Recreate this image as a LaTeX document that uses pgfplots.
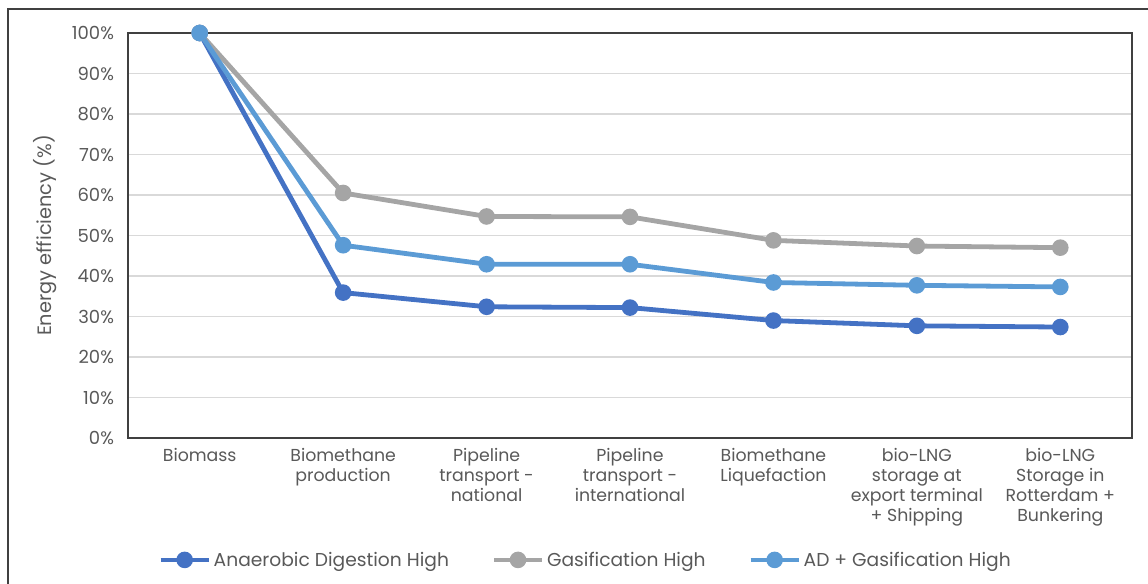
\documentclass[border=0pt]{standalone}
\usepackage{pgfplots}
\pgfplotsset{compat=1.18}
\usepackage{fontspec}
\setmainfont{Poppins}
\definecolor{adc}{HTML}{4472C4}
\definecolor{gasc}{HTML}{A5A5A5}
\definecolor{mixc}{HTML}{5B9BD5}
\definecolor{txt}{HTML}{595959}
\definecolor{frame}{HTML}{404040}
\definecolor{gridc}{HTML}{D9D9D9}
\begin{document}
\begin{tikzpicture}
\path[use as bounding box] (0pt,0pt) rectangle (861pt,437.25pt);
\draw[frame, line width=1.6pt] (6pt,-2pt) -- (6pt,430.5pt) -- (863pt,430.5pt);
\begin{axis}[
  at={(96pt,108.75pt)}, anchor=south west,
  scale only axis, width=753pt, height=303.75pt,
  xmin=-0.5, xmax=6.5, ymin=0, ymax=100,
  xtick={0,1,2,3,4,5,6},
  xticklabels={Biomass,{Biomethane\\production},{Pipeline\\transport -\\national},{Pipeline\\transport -\\international},{Biomethane\\Liquefaction},{bio-LNG\\storage at\\export terminal\\+ Shipping},{bio-LNG\\Storage in\\Rotterdam +\\Bunkering}},
  ytick={0,10,...,100},
  yticklabel={\pgfmathprintnumber{\tick}\%},
  /pgf/number format/assume math mode=true,
  major tick length=0pt,
  ymajorgrids, grid style={gridc, line width=1.1pt},
  axis line style={frame, line width=1.3pt},
  xticklabel style={font=\fontsize{13}{15}\selectfont, text=txt, align=center, anchor=north, yshift=-4pt},
  yticklabel style={font=\fontsize{13.5}{15}\selectfont, text=txt, xshift=-7pt},
  ylabel={Energy efficiency (\%)},
  ylabel style={font=\fontsize{14.5}{15}\selectfont, text=txt, at={(axis description cs:-0.083,0.5)}, anchor=center},
  every axis plot/.append style={line width=3.6pt, mark=*, mark size=4.4pt},
  legend columns=3,
  legend style={draw=none, fill=none, at={(axis description cs:0.456,-0.301)}, anchor=center, font=\fontsize{14}{15}\selectfont, text=txt, /tikz/every even column/.append style={column sep=30pt}, inner sep=0pt},
  legend image code/.code={\draw[mark repeat=2,mark phase=2] plot coordinates {(0pt,0pt) (18pt,0pt) (36pt,0pt)};},
]
\addplot[adc, mark options={fill=adc, draw=adc}] coordinates {(0,100) (1,35.9) (2,32.4) (3,32.2) (4,29.0) (5,27.7) (6,27.4)};
\addlegendentry{Anaerobic Digestion High}
\addplot[gasc, mark options={fill=gasc, draw=gasc}] coordinates {(0,100) (1,60.5) (2,54.7) (3,54.6) (4,48.8) (5,47.4) (6,47.0)};
\addlegendentry{Gasification High}
\addplot[mixc, mark options={fill=mixc, draw=mixc}] coordinates {(0,100) (1,47.6) (2,42.9) (3,42.9) (4,38.4) (5,37.7) (6,37.3)};
\addlegendentry{AD + Gasification High}
\end{axis}
\end{tikzpicture}
\end{document}
